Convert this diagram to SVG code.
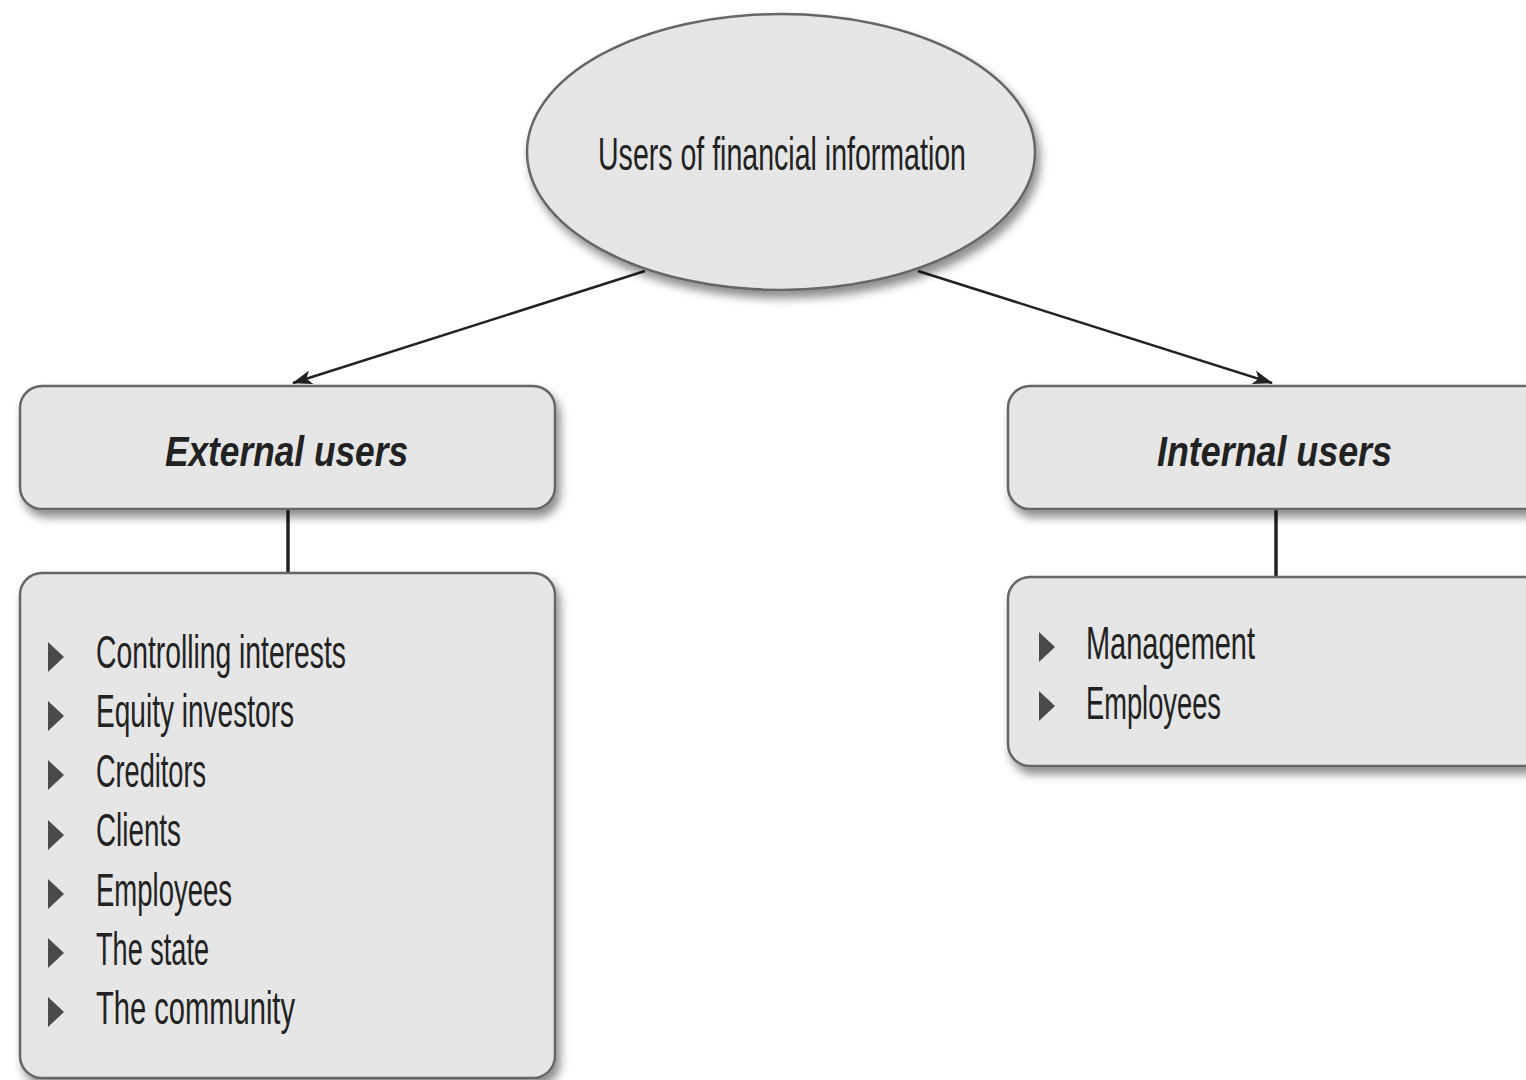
<svg xmlns="http://www.w3.org/2000/svg" width="1526" height="1080" viewBox="0 0 1526 1080">
<style>
.shape{fill:#e6e6e6;stroke:#666;stroke-width:2.5;filter:url(#sh)}
.t{font-family:"Liberation Sans Narrow","Liberation Sans",Arial,sans-serif;fill:#222;font-size:46px}
.h{font-family:"Liberation Sans",Arial,sans-serif;font-weight:bold;font-style:italic;fill:#222;font-size:42px}
.b{fill:#4a4a4a}
.c{stroke:#222;stroke-width:2.5;fill:none}
.v{stroke:#222;stroke-width:3.5;fill:none}
</style>
<defs>
<filter id="sh" x="-10%" y="-10%" width="125%" height="130%">
<feDropShadow dx="4" dy="7" stdDeviation="5" flood-color="#000" flood-opacity="0.45"/>
</filter>
<marker id="arr" viewBox="0 0 20 14" refX="19" refY="7" markerWidth="20" markerHeight="14" markerUnits="userSpaceOnUse" orient="auto">
<path d="M0,0 L20,7 L0,14 L5,7 Z" fill="#222"/>
</marker>
<path id="tri" d="M0,0 L16,15 L0,30 Z"/>
</defs>
<rect width="1526" height="1080" fill="#fff"/>
<g id="connectors">
<line class="c" x1="645" y1="271" x2="293" y2="383" marker-end="url(#arr)"/>
<line class="c" x1="918" y1="271" x2="1272" y2="383" marker-end="url(#arr)"/>
<line class="v" x1="288" y1="510" x2="288" y2="573"/>
<line class="v" x1="1276" y1="510" x2="1276" y2="577"/>
</g>
<g id="root">
<ellipse class="shape" cx="781" cy="152" rx="254" ry="138"/>
<text class="t" x="598" y="170" textLength="368" lengthAdjust="spacingAndGlyphs">Users of financial information</text>
</g>
<g id="external">
<rect class="shape" x="20" y="386" width="535" height="123" rx="22"/>
<text class="h" x="165" y="466" textLength="243" lengthAdjust="spacingAndGlyphs">External users</text>
</g>
<g id="internal">
<rect class="shape" x="1008" y="386" width="540" height="123" rx="22"/>
<text class="h" x="1157" y="466" textLength="235" lengthAdjust="spacingAndGlyphs">Internal users</text>
</g>
<g id="external-list">
<rect class="shape" x="20" y="573" width="535" height="505" rx="22"/>
<use href="#tri" class="b" x="48" y="642"/>
<use href="#tri" class="b" x="48" y="701"/>
<use href="#tri" class="b" x="48" y="760"/>
<use href="#tri" class="b" x="48" y="820"/>
<use href="#tri" class="b" x="48" y="879"/>
<use href="#tri" class="b" x="48" y="938"/>
<use href="#tri" class="b" x="48" y="997"/>
<text class="t" x="96" y="668" textLength="250" lengthAdjust="spacingAndGlyphs">Controlling interests</text>
<text class="t" x="96" y="727" textLength="198" lengthAdjust="spacingAndGlyphs">Equity investors</text>
<text class="t" x="96" y="787" textLength="110" lengthAdjust="spacingAndGlyphs">Creditors</text>
<text class="t" x="96" y="846" textLength="85" lengthAdjust="spacingAndGlyphs">Clients</text>
<text class="t" x="96" y="906" textLength="136" lengthAdjust="spacingAndGlyphs">Employees</text>
<text class="t" x="96" y="965" textLength="113" lengthAdjust="spacingAndGlyphs">The state</text>
<text class="t" x="96" y="1024" textLength="199" lengthAdjust="spacingAndGlyphs">The community</text>
</g>
<g id="internal-list">
<rect class="shape" x="1008" y="577" width="540" height="189" rx="22"/>
<use href="#tri" class="b" x="1039" y="632"/>
<use href="#tri" class="b" x="1039" y="691"/>
<text class="t" x="1086" y="659" textLength="169" lengthAdjust="spacingAndGlyphs">Management</text>
<text class="t" x="1086" y="719" textLength="135" lengthAdjust="spacingAndGlyphs">Employees</text>
</g>
</svg>
